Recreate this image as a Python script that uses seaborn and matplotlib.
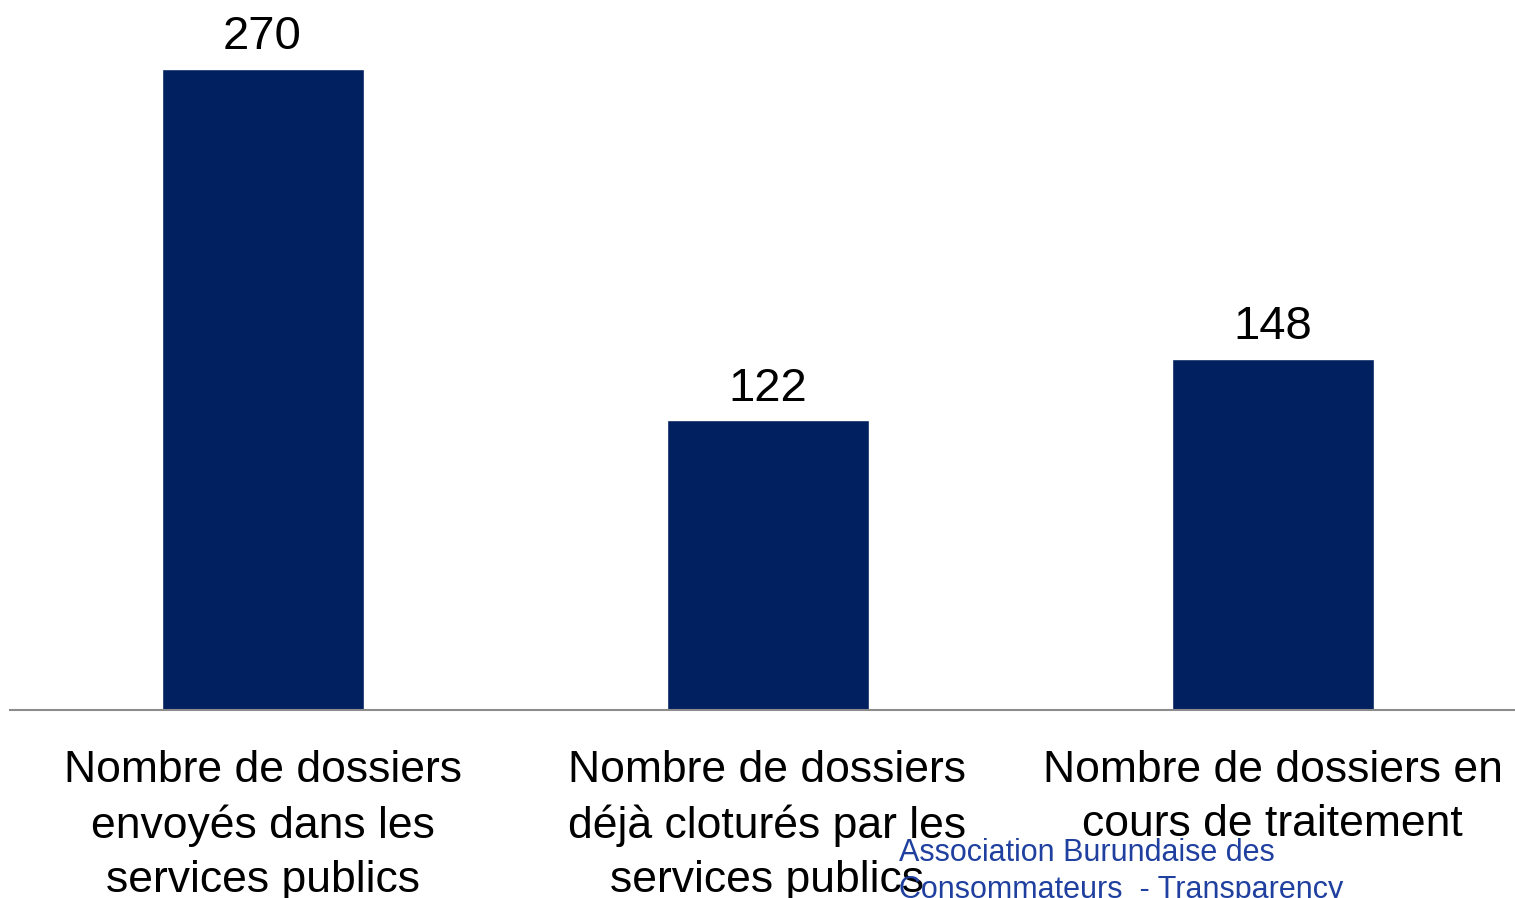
import matplotlib
matplotlib.use("Agg")
import matplotlib.pyplot as plt
import seaborn as sns
import pandas as pd

categories = [
    "Nombre de dossiers\nenvoyés dans les\nservices publics",
    "Nombre de dossiers\ndéjà cloturés par les\nservices publics",
    "Nombre de dossiers en\ncours de traitement",
]
values = [270, 122, 148]
source_text = "Association Burundaise des\nConsommateurs  - Transparency"

sns.set_theme(style="white")
plt.rcParams['font.family'] = ['Liberation Sans', 'DejaVu Sans']

df = pd.DataFrame({"cat": categories, "val": values})

fig = plt.figure(figsize=(15.15, 8.98), dpi=100)
ax = fig.add_axes([10 / 1515, (898 - 710) / 898, 1505 / 1515, 710 / 898])

sns.barplot(data=df, x="cat", y="val", color="#002060", saturation=1,
            width=0.4, ax=ax)

ax.set_xlim(-0.5, -0.5 + 1505 / 505)
ax.set_ylim(0, 710 * 270 / 641)

for c in ax.containers:
    ax.bar_label(c, fontsize=34, padding=7, color="black")

ax.set_xlabel("")
ax.set_ylabel("")
ax.set_yticks([])
ax.tick_params(axis="x", length=0, pad=29, labelsize=32, labelcolor="black")
for lbl in ax.get_xticklabels():
    lbl.set_linespacing(1.4)
for s in ["top", "right", "left"]:
    ax.spines[s].set_visible(False)
ax.spines["bottom"].set_color("#8c8c8c")
ax.spines["bottom"].set_linewidth(1.5)

fig.text(899 / 1515, 1 - 838 / 898, source_text, fontsize=22, color="#2040a0",
         ha="left", va="top", linespacing=1.3)

fig.savefig("out.png", dpi=100)
